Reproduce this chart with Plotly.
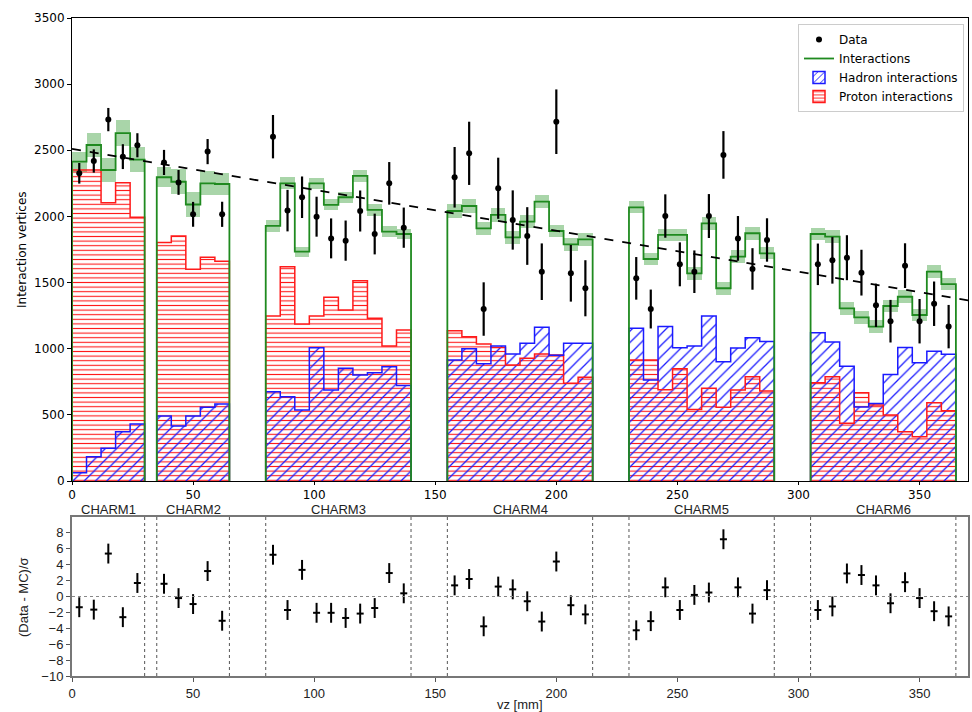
import plotly.graph_objects as go

# ---------------- data ----------------
module_names = ["CHARM1", "CHARM2", "CHARM3", "CHARM4", "CHARM5", "CHARM6"]
module_lo = [0, 35, 80, 155, 230, 305]
module_hi = [30, 65, 140, 215, 290, 365]
bin_width = 6

proton = [2351, 2351, 2104, 2255, 1993,
          1802, 1852, 1600, 1691, 1661,
          1247, 1620, 1187, 1247, 1389, 1293, 1514, 1230, 1021, 1142,
          1136, 1091, 1035, 1010, 877, 927, 960, 953, 738, 784,
          915, 915, 690, 848, 540, 701, 557, 688, 789, 680,
          743, 789, 436, 668, 575, 499, 373, 335, 592, 531]

hadron = [63, 184, 247, 373, 431,
          491, 416, 491, 557, 582,
          675, 637, 537, 1008, 688, 852, 801, 819, 864, 721,
          915, 1000, 887, 1020, 960, 1041, 1162, 950, 1041, 1041,
          1154, 764, 1167, 1007, 1020, 1247, 902, 1005, 1082, 1055,
          1121, 1050, 867, 560, 585, 805, 1010, 893, 980, 958]

interactions = [2414, 2540, 2351, 2629, 2430,
                2296, 2262, 2090, 2250, 2245,
                1928, 2250, 1734, 2250, 2087, 2145, 2306, 2049, 1885, 1867,
                2041, 2079, 1910, 2011, 1842, 1960, 2112, 1890, 1789, 1827,
                2069, 1678, 1860, 1860, 1570, 1948, 1457, 1696, 1873, 1721,
                1867, 1847, 1305, 1237, 1167, 1323, 1393, 1255, 1582, 1489]

interactions_unc = [76, 91, 93, 100, 96,
                    76, 93, 91, 90, 85,
                    42, 45, 38, 42, 42, 42, 44, 42, 42, 40,
                    50, 50, 48, 50, 48, 48, 50, 48, 48, 48,
                    45, 48, 48, 48, 48, 48, 48, 48, 48, 45,
                    48, 48, 48, 48, 48, 48, 48, 48, 48, 48]

data_y = [2326, 2419, 2732, 2452, 2538,
          2408, 2257, 2016, 2490, 2016,
          2603, 2044, 2145, 1998, 1834, 1817, 2041, 1867, 2250, 1915,
          2296, 2477, 1300, 2213, 1973, 1852, 1582, 2716, 1570, 1457,
          1532, 1300, 2003, 1638, 1582, 2003, 2465, 1834, 1603, 1822,
          1638, 1668, 1688, 1575, 1328, 1208, 1628, 1208, 1340, 1167]

data_err = [78, 88, 88, 94, 91,
            95, 94, 94, 95, 95,
            164, 157, 157, 151, 151, 152, 155, 154, 161, 152,
            229, 239, 202, 231, 224, 218, 214, 244, 214, 212,
            161, 147, 164, 166, 161, 166, 180, 169, 157, 164,
            157, 176, 170, 173, 164, 161, 169, 168, 168, 164]

residual = [-1.35, -1.65, 5.4, -2.6, 1.7,
            1.6, -0.2, -0.95, 3.2, -3.05,
            5.25, -1.7, 3.35, -2.05, -2.05, -2.7, -2.15, -1.45, 2.95, 0.4,
            1.4, 2.2, -3.75, 1.25, 0.9, -0.6, -3.15, 4.4, -1.1, -2.25,
            -4.25, -3.1, 1.15, -1.7, 0.2, 0.5, 7.2, 1.15, -2.15, 0.8,
            -1.7, -1.25, 2.9, 2.7, 1.4, -0.85, 1.8, -0.2, -1.85, -2.5]
residual_err = 1.25

fit_x = [0, 370]
fit_y = [2510, 1365]

top_x_ticks = [0, 50, 100, 150, 200, 250, 300, 350]
top_y_ticks = [0, 500, 1000, 1500, 2000, 2500, 3000, 3500]
res_y_ticks = [-10, -8, -6, -4, -2, 0, 2, 4, 6, 8]

# ---------------- derived geometry ----------------
centers = []
for lo, hi in zip(module_lo, module_hi):
    n = int(round((hi - lo) / bin_width))
    for i in range(n):
        centers.append(lo + (i + 0.5) * bin_width)


def step_path(values):
    xs, ys = [], []
    k = 0
    for lo, hi in zip(module_lo, module_hi):
        n = int(round((hi - lo) / bin_width))
        xs.append(lo); ys.append(0)
        for i in range(n):
            v = values[k + i]
            xs += [lo + i * bin_width, lo + (i + 1) * bin_width]
            ys += [v, v]
        xs.append(hi); ys.append(0)
        xs.append(None); ys.append(None)
        k += n
    return xs, ys


W, H = 972, 712
px = lambda v: v / W
py = lambda v: 1 - v / H
x_dom = [px(72), px(968)]
top_dom = [py(481), py(18)]
bot_dom = [py(676), py(517)]

RED = "#ff1a1a"
BLUE = "#1a1aff"
GREEN = "#1f8a1f"
FONT_TOP = "DejaVu Sans"
FONT_BOT = "Liberation Sans"

fig = go.Figure()

# hatched fills (no outline)
fig.add_trace(go.Bar(
    x=centers, y=proton, width=bin_width, xaxis="x", yaxis="y",
    marker=dict(color=RED, line=dict(width=0),
                pattern=dict(shape="-", size=4.6, solidity=0.24, fgcolor=RED,
                             bgcolor="rgba(0,0,0,0)", fillmode="replace")),
    showlegend=False, hoverinfo="skip"))
fig.add_trace(go.Bar(
    x=centers, y=hadron, width=bin_width, xaxis="x", yaxis="y",
    marker=dict(color=BLUE, line=dict(width=0),
                pattern=dict(shape="/", size=8, solidity=0.16, fgcolor=BLUE,
                             bgcolor="rgba(0,0,0,0)", fillmode="replace")),
    showlegend=False, hoverinfo="skip"))
# uncertainty band on interactions
fig.add_trace(go.Bar(
    x=centers, y=[2 * u for u in interactions_unc],
    base=[v - u for v, u in zip(interactions, interactions_unc)],
    width=bin_width, xaxis="x", yaxis="y",
    marker=dict(color="rgba(40,150,40,0.40)", line=dict(width=0)),
    showlegend=False, hoverinfo="skip"))

# legend-only patches
fig.add_trace(go.Bar(
    x=[None], y=[None], name="Hadron interactions", legendrank=3,
    marker=dict(color=BLUE, line=dict(width=1.5, color=BLUE),
                pattern=dict(shape="/", size=6, solidity=0.2, fgcolor=BLUE,
                             bgcolor="rgba(0,0,0,0)", fillmode="replace"))))
fig.add_trace(go.Bar(
    x=[None], y=[None], name="Proton interactions", legendrank=4,
    marker=dict(color=RED, line=dict(width=1.5, color=RED),
                pattern=dict(shape="-", size=4, solidity=0.25, fgcolor=RED,
                             bgcolor="rgba(0,0,0,0)", fillmode="replace"))))

# outlines
sx, sy = step_path(proton)
fig.add_trace(go.Scatter(x=sx, y=sy, mode="lines", line=dict(color=RED, width=1.5),
                         xaxis="x", yaxis="y", showlegend=False, hoverinfo="skip"))
sx, sy = step_path(hadron)
fig.add_trace(go.Scatter(x=sx, y=sy, mode="lines", line=dict(color=BLUE, width=1.5),
                         xaxis="x", yaxis="y", showlegend=False, hoverinfo="skip"))
sx, sy = step_path(interactions)
fig.add_trace(go.Scatter(x=sx, y=sy, mode="lines", line=dict(color=GREEN, width=1.8),
                         xaxis="x", yaxis="y", name="Interactions", legendrank=2))

# fit line
fig.add_trace(go.Scatter(x=fit_x, y=fit_y, mode="lines",
                         line=dict(color="black", width=1.8, dash="dash"),
                         xaxis="x", yaxis="y", showlegend=False, hoverinfo="skip"))

# data
fig.add_trace(go.Scatter(
    x=centers, y=data_y, mode="markers", name="Data", legendrank=1,
    marker=dict(color="black", size=6),
    error_y=dict(type="data", array=data_err, color="black", thickness=2.2, width=0),
    xaxis="x", yaxis="y"))

# residuals
fig.add_trace(go.Scatter(
    x=centers, y=residual, mode="markers",
    marker=dict(symbol="line-ew", size=5, color="black",
                line=dict(color="black", width=2)),
    error_y=dict(type="constant", value=residual_err, color="black", thickness=2, width=0),
    xaxis="x2", yaxis="y2", showlegend=False, hoverinfo="skip"))

# module boundary lines and zero line in residual panel
shapes = []
for lo, hi in zip(module_lo, module_hi):
    for xv in (lo, hi):
        if xv <= 0:
            continue
        shapes.append(dict(type="line", xref="x2", yref="y2 domain", x0=xv, x1=xv,
                           y0=0, y1=1, line=dict(color="#555555", width=1, dash="dot")))
shapes.append(dict(type="line", xref="x2 domain", yref="y2", x0=0, x1=1, y0=0, y1=0,
                   line=dict(color="#888888", width=1, dash="dot")))

module_centers = [(lo + hi) / 2 for lo, hi in zip(module_lo, module_hi)]

annotations = [
    dict(text="Interaction vertices", xref="paper", yref="paper", x=px(22), y=py(250),
         xanchor="center", yanchor="middle",
         textangle=-90, showarrow=False, font=dict(family=FONT_TOP, size=12)),
    dict(text="(Data - MC)/σ", xref="paper", yref="paper", x=px(23), y=py(597),
         xanchor="center", yanchor="middle",
         textangle=-90, showarrow=False, font=dict(family=FONT_BOT, size=13, color="#222222")),
    dict(text="vz [mm]", xref="paper", yref="paper", x=px(520), y=py(704),
         xanchor="center", yanchor="middle",
         showarrow=False, font=dict(family=FONT_BOT, size=13, color="#222222")),
]
for name, c in zip(module_names, module_centers):
    annotations.append(dict(text=name, xref="x2", yref="paper", x=c, y=py(509.5),
                            xanchor="center", yanchor="middle", showarrow=False,
                            font=dict(family=FONT_BOT, size=13, color="#222222")))

axis_common = dict(showgrid=False, zeroline=False, ticks="outside",
                   showline=True, mirror=True, automargin=False)

fig.update_layout(
    width=W, height=H, autosize=False,
    margin=dict(l=0, r=0, t=0, b=0, pad=0),
    paper_bgcolor="white", plot_bgcolor="white",
    barmode="overlay", bargap=0,
    font=dict(family=FONT_TOP, size=12, color="black"),
    xaxis=dict(domain=x_dom, range=[0, 370], anchor="y", tickvals=top_x_ticks,
               linecolor="black", linewidth=1, tickcolor="black", ticklen=3,
               ticklabelstandoff=0,
               tickfont=dict(family=FONT_TOP, size=12, color="black"), **axis_common),
    yaxis=dict(domain=top_dom, range=[0, 3500], anchor="x", tickvals=top_y_ticks,
               linecolor="black", linewidth=1, tickcolor="black", ticklen=4,
               tickfont=dict(family=FONT_TOP, size=12, color="black"), **axis_common),
    xaxis2=dict(domain=x_dom, range=[0, 370], anchor="y2", tickvals=top_x_ticks,
                linecolor="#777777", linewidth=2, tickcolor="#555555", ticklen=4,
                tickfont=dict(family=FONT_BOT, size=13, color="#222222"), **axis_common),
    yaxis2=dict(domain=bot_dom, range=[-10, 10], anchor="x2", tickvals=res_y_ticks,
                linecolor="#777777", linewidth=2, tickcolor="#555555", ticklen=4,
                tickfont=dict(family=FONT_BOT, size=13, color="#222222"), **axis_common),
    legend=dict(x=px(964), y=py(24), xanchor="right", yanchor="top",
                bgcolor="rgba(255,255,255,0.9)", bordercolor="#cccccc", borderwidth=1,
                font=dict(family=FONT_TOP, size=12, color="black"),
                itemwidth=30, tracegroupgap=0),
    shapes=shapes,
    annotations=annotations,
)

fig.write_html(
    "out.html",
    config={"displayModeBar": False},
    post_script="document.documentElement.style.margin='0';"
                "document.body.style.margin='0';"
                "document.body.style.overflow='hidden';"
                "document.documentElement.style.overflow='hidden';",
)
